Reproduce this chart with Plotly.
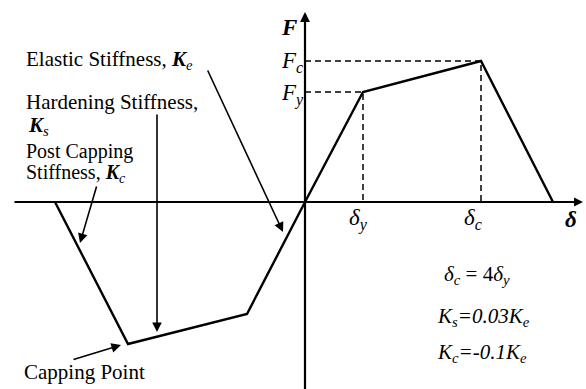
import plotly.graph_objects as go

# backbone curve (deformation, force), arbitrary units
delta = [-2.50, -1.77, -0.58, 0.0, 0.58, 1.76, 2.48]
force = [0.0, -1.42, -1.12, 0.0, 1.10, 1.41, 0.0]

# yield and capping points for the dashed guides
d_y, f_y = 0.58, 1.10
d_c, f_c = 1.76, 1.41

FONT = "Liberation Serif"
fig = go.Figure()

# dashed guides
for dx, fy in [(d_y, f_y), (d_c, f_c)]:
    fig.add_trace(go.Scatter(x=[0, dx, dx], y=[fy, fy, 0], mode="lines",
                             line=dict(color="black", width=1.5, dash="6px,4px"),
                             hoverinfo="skip"))

fig.add_trace(go.Scatter(x=delta, y=force, mode="lines",
                         line=dict(color="black", width=2.4), hoverinfo="skip"))

def arrow(x0, y0, x1, y1, width=1.6, head=2, size=1.2):
    fig.add_annotation(x=x1, y=y1, ax=x0, ay=y0, xref="x", yref="y",
                       axref="x", ayref="y", text="", showarrow=True,
                       arrowhead=head, arrowsize=size, arrowwidth=width,
                       arrowcolor="black")

# axes
arrow(-2.92, 0, 2.78, 0, width=1.8, size=1.0)
arrow(0, -1.90, 0, 1.90, width=2.2, size=0.9)

# pointer arrows (pixel -> data: x=(px-305)/100, y=(202-py)/100)
arrow(-0.98, 1.33, -0.22, -0.30)   # elastic
arrow(-1.48, 0.89, -1.48, -1.30)   # hardening
arrow(-2.08, 0.17, -2.25, -0.41)   # post capping
arrow(-2.33, -1.58, -1.84, -1.43)  # capping point

def label(x, y, txt, size=21, xanchor="center"):
    fig.add_annotation(x=x, y=y, xref="x", yref="y", text=txt, showarrow=False,
                       xanchor=xanchor, yanchor="middle",
                       font=dict(family=FONT, size=size, color="black"))

label(-2.81, 1.42, "Elastic Stiffness, <b><i>K</i></b><sub><i>e</i></sub>", xanchor="left")
label(-2.81, 1.00, "Hardening Stiffness,", xanchor="left")
label(-2.79, 0.76, "<b><i>K</i></b><sub><i>s</i></sub>", xanchor="left")
label(-2.81, 0.505, "Post Capping", xanchor="left", size=20)
label(-2.81, 0.285, "Stiffness, <b><i>K</i></b><sub><i>c</i></sub>", xanchor="left", size=20)
label(-2.83, -1.70, "Capping Point", xanchor="left")

label(-0.16, 1.75, "<b><i>F</i></b>", size=23)
label(-0.13, 1.40, "<i>F</i><sub><i>c</i></sub>", size=23)
label(-0.13, 1.08, "<i>F</i><sub><i>y</i></sub>", size=23)
label(0.53, -0.17, "<i>δ</i><sub><i>y</i></sub>", size=23)
label(1.68, -0.17, "<i>δ</i><sub><i>c</i></sub>", size=23)
label(2.66, -0.17, "<b><i>δ</i></b>", size=23)

label(1.72, -0.73, "<i>δ</i><sub><i>c</i></sub> = 4<i>δ</i><sub><i>y</i></sub>", size=21)
label(1.78, -1.15, "<i>K</i><sub><i>s</i></sub><i>=0.03K</i><sub><i>e</i></sub>", size=21)
label(1.77, -1.51, "<i>K</i><sub><i>c</i></sub><i>=-0.1K</i><sub><i>e</i></sub>", size=21)

fig.update_xaxes(visible=False, range=[-3.05, 2.81], fixedrange=True)
fig.update_yaxes(visible=False, range=[-1.87, 2.02], fixedrange=True)
fig.update_layout(width=586, height=389, showlegend=False,
                  margin=dict(l=0, r=0, t=0, b=0),
                  plot_bgcolor="white", paper_bgcolor="white")

fig.write_html("out.html", config={"displayModeBar": False},
               post_script="document.body.style.margin='0';")
